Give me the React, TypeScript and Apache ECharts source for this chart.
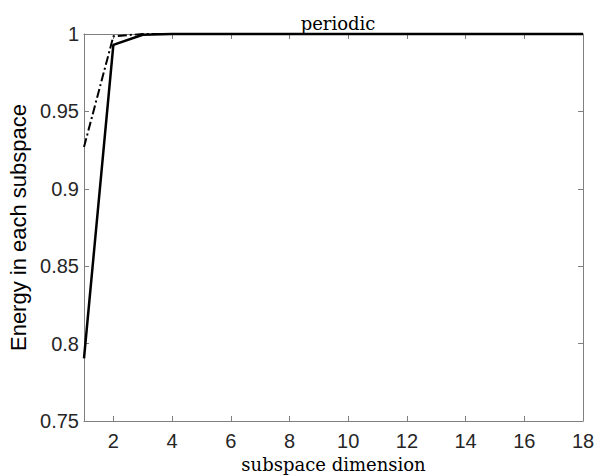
import React, { useEffect, useRef } from "react";
import * as echarts from "echarts";

const dims = [1, 2, 3, 4, 5, 6, 7, 8, 9, 10, 11, 12, 13, 14, 15, 16, 17, 18];
const solidValues = [0.7905, 0.993, 0.9995, 1, 1, 1, 1, 1, 1, 1, 1, 1, 1, 1, 1, 1, 1, 1];
const dashDotValues = [0.927, 0.9985, 1, 1, 1, 1, 1, 1, 1, 1, 1, 1, 1, 1, 1, 1, 1, 1];
const xTicks = [2, 4, 6, 8, 10, 12, 14, 16, 18];

export default function App() {
  const ref = useRef<HTMLDivElement>(null);
  useEffect(() => {
    if (!ref.current) return;
    const chart = echarts.init(ref.current, null, { renderer: "svg" });
    const axisLine = { show: true, lineStyle: { color: "#7f7f7f", width: 1 } };
    const tick = { show: true, inside: true, length: 5, lineStyle: { color: "#7f7f7f" } };
    const xTick = { ...tick, customValues: xTicks };
    chart.setOption({
      animation: false,
      backgroundColor: "#ffffff",
      title: {
        text: "periodic",
        left: 333,
        top: 9,
        textAlign: "center",
        textStyle: { fontFamily: "DejaVu Serif", fontSize: 18, fontWeight: "normal", color: "#000" },
      },
      grid: { left: 84, right: 17, top: 34, bottom: 55, outerBoundsMode: "none", containLabel: false },
      xAxis: [
        {
          type: "value",
          min: 1,
          max: 18,
          name: "subspace dimension",
          nameLocation: "middle",
          nameGap: 27,
          nameTextStyle: { fontFamily: "DejaVu Serif", fontSize: 18, color: "#000" },
          axisLine,
          axisTick: xTick,
          splitLine: { show: false },
          axisLabel: {
            customValues: xTicks,
            margin: 10,
            fontFamily: "Liberation Sans",
            fontSize: 20,
            color: "#262626",
          },
        },
        {
          type: "value",
          position: "top",
          min: 1,
          max: 18,
          axisLine,
          axisTick: xTick,
          splitLine: { show: false },
          axisLabel: { show: false },
        },
      ],
      yAxis: [
        {
          type: "value",
          min: 0.75,
          max: 1,
          interval: 0.05,
          name: "Energy in each subspace",
          nameLocation: "middle",
          nameGap: 48,
          nameTextStyle: { fontFamily: "Liberation Sans", fontSize: 22, color: "#000" },
          axisLine,
          axisTick: tick,
          splitLine: { show: false },
          axisLabel: {
            margin: 5,
            fontFamily: "Liberation Sans",
            fontSize: 20,
            color: "#262626",
            formatter: (v: number) => String(parseFloat(v.toFixed(2))),
          },
        },
        {
          type: "value",
          position: "right",
          min: 0.75,
          max: 1,
          interval: 0.05,
          axisLine,
          axisTick: tick,
          splitLine: { show: false },
          axisLabel: { show: false },
        },
      ],
      series: [
        {
          type: "line",
          data: dims.map((d, i) => [d, solidValues[i]]),
          showSymbol: false,
          symbol: "none",
          lineStyle: { color: "#000", width: 2.5 },
          clip: false,
        },
        {
          type: "line",
          data: dims.map((d, i) => [d, dashDotValues[i]]),
          showSymbol: false,
          symbol: "none",
          lineStyle: { color: "#000", width: 2, type: [9, 3, 2, 3] },
          clip: false,
        },
      ],
    });
    return () => chart.dispose();
  }, []);
  return <div ref={ref} style={{ width: 600, height: 476, position: "absolute", left: 0, top: 0 }} />;
}
